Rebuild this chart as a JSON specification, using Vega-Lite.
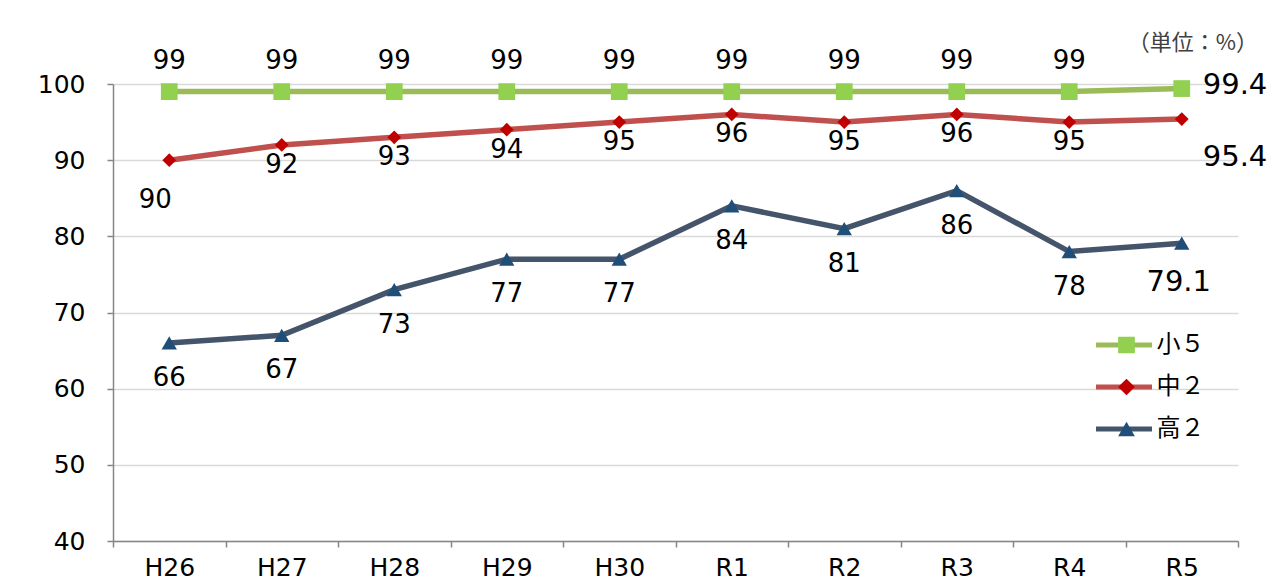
{
  "$schema": "https://vega.github.io/schema/vega-lite/v6.json",
  "autosize": "none",
  "width": 1125,
  "height": 457,
  "padding": {"left": 113, "top": 84, "right": 46, "bottom": 40},
  "background": "white",
  "config": {
    "view": {"stroke": null},
    "font": "DejaVu Sans, Noto Sans CJK JP",
    "axis": {"labelFont": "DejaVu Sans, Noto Sans CJK JP", "labelFontSize": 25, "labelColor": "#000000", "domainColor": "#868686", "domainWidth": 1.5, "tickColor": "#868686", "tickWidth": 1.5, "tickSize": 6, "title": null}
  },
  "title": {"text": "（単位：%）", "anchor": "end", "frame": "group", "fontSize": 22, "fontWeight": "normal", "color": "#404040", "font": "Noto Sans CJK JP", "dx": 20, "offset": -7},
  "data": {"values": [
    {"year": "H26", "series": "小５", "value": 99},
    {"year": "H27", "series": "小５", "value": 99},
    {"year": "H28", "series": "小５", "value": 99},
    {"year": "H29", "series": "小５", "value": 99},
    {"year": "H30", "series": "小５", "value": 99},
    {"year": "R1", "series": "小５", "value": 99},
    {"year": "R2", "series": "小５", "value": 99},
    {"year": "R3", "series": "小５", "value": 99},
    {"year": "R4", "series": "小５", "value": 99},
    {"year": "R5", "series": "小５", "value": 99.4},
    {"year": "H26", "series": "中２", "value": 90},
    {"year": "H27", "series": "中２", "value": 92},
    {"year": "H28", "series": "中２", "value": 93},
    {"year": "H29", "series": "中２", "value": 94},
    {"year": "H30", "series": "中２", "value": 95},
    {"year": "R1", "series": "中２", "value": 96},
    {"year": "R2", "series": "中２", "value": 95},
    {"year": "R3", "series": "中２", "value": 96},
    {"year": "R4", "series": "中２", "value": 95},
    {"year": "R5", "series": "中２", "value": 95.4},
    {"year": "H26", "series": "高２", "value": 66},
    {"year": "H27", "series": "高２", "value": 67},
    {"year": "H28", "series": "高２", "value": 73},
    {"year": "H29", "series": "高２", "value": 77},
    {"year": "H30", "series": "高２", "value": 77},
    {"year": "R1", "series": "高２", "value": 84},
    {"year": "R2", "series": "高２", "value": 81},
    {"year": "R3", "series": "高２", "value": 86},
    {"year": "R4", "series": "高２", "value": 78},
    {"year": "R5", "series": "高２", "value": 79.1}
  ]},
  "encoding": {
    "x": {"field": "year", "type": "nominal", "sort": ["H26","H27","H28","H29","H30","R1","R2","R3","R4","R5"],
      "scale": {"paddingInner": 0, "paddingOuter": 0},
      "axis": {"labelAngle": 0, "labelPadding": 8, "tickBand": "extent", "grid": false}},
    "y": {"field": "value", "type": "quantitative", "scale": {"domain": [40, 100], "nice": false, "zero": false},
      "axis": {"values": [40,50,60,70,80,90,100], "grid": true, "gridColor": "#D9D9D9", "gridWidth": 1.5, "labelPadding": 22}}
  },
  "layer": [
    {
      "mark": {"type": "line", "strokeWidth": 5.5},
      "encoding": {
        "stroke": {"field": "series", "type": "nominal", "sort": ["小５","中２","高２"],
          "scale": {"range": ["#9BBB59","#C0504D","#44546A"]},
          "legend": {"orient": "none", "legendX": 980.5, "legendY": 251, "title": null, "symbolType": "stroke", "symbolSize": 3136, "symbolStrokeWidth": 5, "clipHeight": 20, "rowPadding": 18, "labelFontSize": 24, "labelColor": "#000000", "labelOffset": 2, "labelFont": "Noto Sans CJK JP"}}
      }
    },
    {
      "mark": {"type": "point", "filled": true, "opacity": 1, "strokeWidth": 0},
      "encoding": {
        "fill": {"field": "series", "type": "nominal",
          "scale": {"domain": ["小５","中２","高２"], "range": ["#92D050","#C00000","#1F4E79"]},
          "legend": {"orient": "none", "legendX": 1001.5, "legendY": 251, "title": null, "symbolSize": 280, "symbolStrokeWidth": 0, "clipHeight": 20, "rowPadding": 18, "labelFontSize": 24, "labelExpr": "''", "symbolOpacity": 1}},
        "shape": {"field": "series", "type": "nominal",
          "scale": {"domain": ["小５","中２","高２"], "range": ["square","diamond","triangle-up"]},
          "legend": {"orient": "none", "legendX": 1001.5, "legendY": 251, "title": null, "symbolSize": 280, "symbolStrokeWidth": 0, "clipHeight": 20, "rowPadding": 18, "labelFontSize": 24, "labelExpr": "''", "symbolOpacity": 1}},
        "size": {"field": "series", "type": "nominal", "sort": ["小５","高２","中２"],
          "scale": {"range": [280, 190]}, "legend": null}
      }
    },
    {
      "transform": [{"filter": "datum.series === '小５' && datum.year !== 'R5'"}],
      "mark": {"type": "text", "fontSize": 26, "color": "#000000", "dy": -31, "baseline": "middle"},
      "encoding": {"text": {"field": "value", "type": "quantitative"}}
    },
    {
      "transform": [{"filter": "datum.series === '中２' && datum.year !== 'R5' && datum.year !== 'H26'"}],
      "mark": {"type": "text", "fontSize": 26, "color": "#000000", "dy": 20, "baseline": "middle"},
      "encoding": {"text": {"field": "value", "type": "quantitative"}}
    },
    {
      "transform": [{"filter": "datum.series === '中２' && datum.year === 'H26'"}],
      "mark": {"type": "text", "fontSize": 26, "color": "#000000", "dx": -14, "dy": 40, "baseline": "middle"},
      "encoding": {"text": {"field": "value", "type": "quantitative"}}
    },
    {
      "transform": [{"filter": "datum.series === '高２' && datum.year !== 'R5'"}],
      "mark": {"type": "text", "fontSize": 26, "color": "#000000", "dy": 35, "baseline": "middle"},
      "encoding": {"text": {"field": "value", "type": "quantitative"}}
    },
    {
      "transform": [{"filter": "datum.series === '小５' && datum.year === 'R5'"}],
      "mark": {"type": "text", "fontSize": 29, "color": "#000000", "align": "left", "dx": 21, "dy": -4, "baseline": "middle"},
      "encoding": {"text": {"field": "value", "type": "quantitative"}}
    },
    {
      "transform": [{"filter": "datum.series === '中２' && datum.year === 'R5'"}],
      "mark": {"type": "text", "fontSize": 29, "color": "#000000", "align": "left", "dx": 21, "dy": 38, "baseline": "middle"},
      "encoding": {"text": {"field": "value", "type": "quantitative"}}
    },
    {
      "transform": [{"filter": "datum.series === '高２' && datum.year === 'R5'"}],
      "mark": {"type": "text", "fontSize": 29, "color": "#000000", "align": "center", "dx": -3, "dy": 39, "baseline": "middle"},
      "encoding": {"text": {"field": "value", "type": "quantitative"}}
    }
  ]
}
